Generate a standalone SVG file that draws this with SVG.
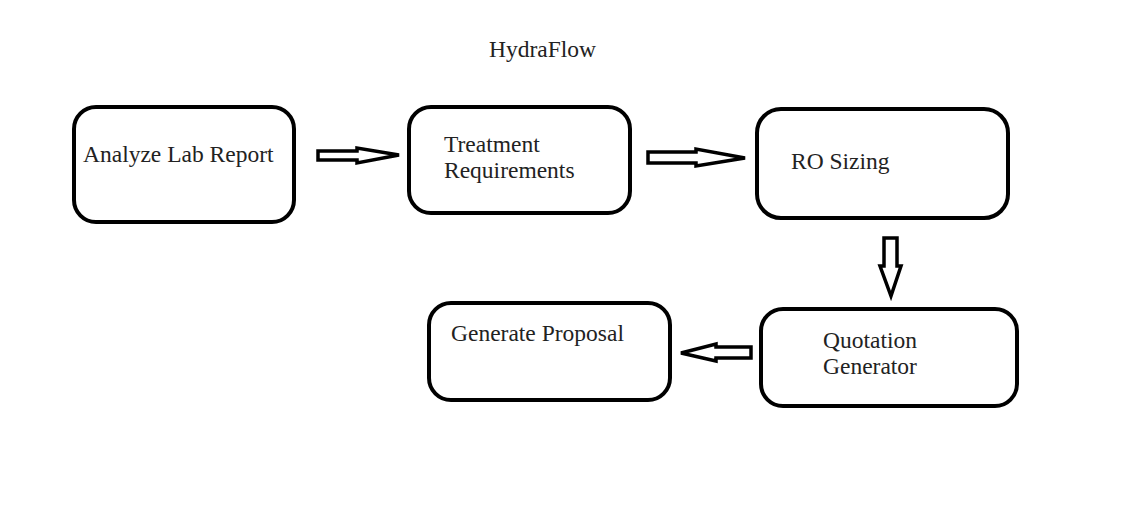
<svg xmlns="http://www.w3.org/2000/svg" width="1125" height="531" viewBox="0 0 1125 531">
<style>
.box{fill:#fff;stroke:#000;stroke-width:4}
.arr{fill:#fff;stroke:#000;stroke-width:3.5;stroke-linejoin:miter}
.t{font-family:"Liberation Serif","Times New Roman",serif;font-size:23.5px;fill:#222}
</style>
<rect width="1125" height="531" fill="#fff"/>
<text class="t" x="489" y="57">HydraFlow</text>
<g id="n1"><rect class="box" x="74" y="107" width="220" height="115" rx="22"/><text class="t" x="83" y="162">Analyze Lab Report</text></g>
<g id="n2"><rect class="box" x="409" y="107" width="221" height="106" rx="22"/><text class="t" x="444" y="152">Treatment</text><text class="t" x="444" y="178">Requirements</text></g>
<g id="n3"><rect class="box" x="757" y="109" width="251" height="109" rx="24"/><text class="t" x="791" y="169">RO Sizing</text></g>
<g id="n4"><rect class="box" x="761" y="309" width="256" height="97" rx="22"/><text class="t" x="823" y="348">Quotation</text><text class="t" x="823" y="374">Generator</text></g>
<g id="n5"><rect class="box" x="429" y="303" width="241" height="97" rx="22"/><text class="t" x="451" y="341">Generate Proposal</text></g>
<g id="connectors">
<path class="arr" d="M318,151 L357,151 L357,148 L399,155 L357,163 L357,160 L318,160 Z"/>
<path class="arr" d="M648,152 L696,152 L696,149 L745,158 L696,166 L696,163 L648,163 Z"/>
<path class="arr" d="M884,238 L897,238 L897,266 L901,266 L891,296 L880,266 L884,266 Z"/>
<path class="arr" d="M751,347 L716,347 L716,344 L681,353 L716,361 L716,358 L751,358 Z"/>
</g>
</svg>
